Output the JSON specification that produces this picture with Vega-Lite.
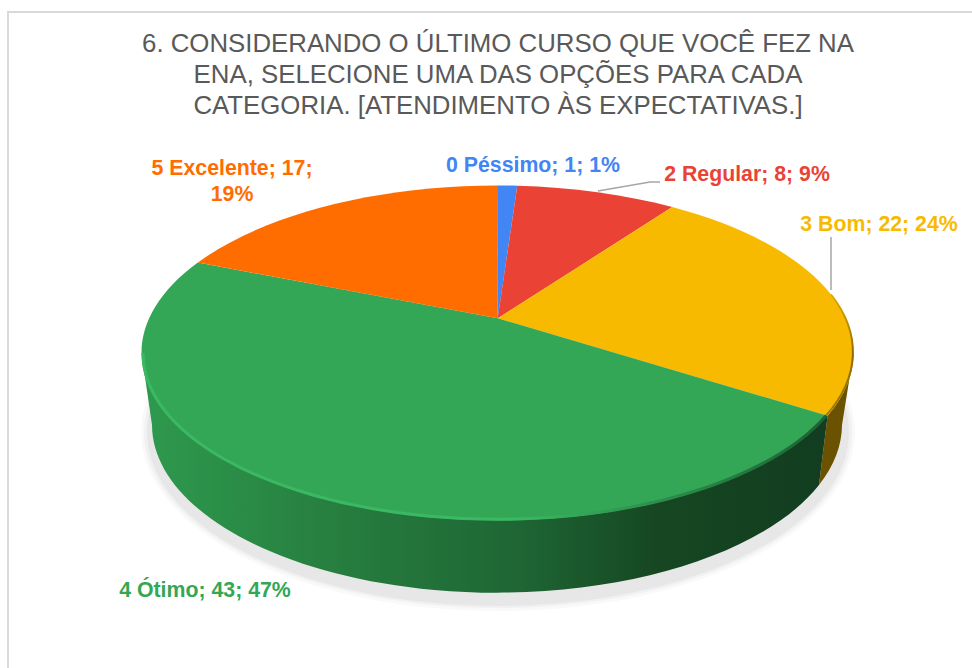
{"$schema":"https://vega.github.io/schema/vega-lite/v6.json","width":972,"height":668,"padding":0,"autosize":"none","background":"white","config":{"view":{"stroke":null}},
"title":{"text":["6. CONSIDERANDO O ÚLTIMO CURSO QUE VOCÊ FEZ NA","ENA, SELECIONE UMA DAS OPÇÕES PARA CADA","CATEGORIA. [ATENDIMENTO ÀS EXPECTATIVAS.]"],"font":"Liberation Sans","fontSize":25.8,"fontWeight":"normal","color":"#595959","anchor":"middle","frame":"group","lineHeight":31,"dx":12,"dy":145,"baseline":"bottom","offset":0},
"datasets":{"respostas":[{"categoria":"0 Péssimo","contagem":1,"rotulo":"0 Péssimo; 1; 1%"},{"categoria":"2 Regular","contagem":8,"rotulo":"2 Regular; 8; 9%"},{"categoria":"3 Bom","contagem":22,"rotulo":"3 Bom; 22; 24%"},{"categoria":"4 Ótimo","contagem":43,"rotulo":"4 Ótimo; 43; 47%"},{"categoria":"5 Excelente","contagem":17,"rotulo":"5 Excelente; 17;\n19%"}]},
"data":{"name":"respostas"},
"layer":[
{"transform":[{"filter":"datum.contagem==43"}],"mark":{"type":"point","shape":"M-478,334 L-478,-322 L486,-322","size":4,"filled":false,"fill":"transparent","stroke":"#d9d9d9","strokeWidth":2,"opacity":1}},
{"transform":[{"filter":"datum.contagem==43"}],"mark":{"type":"point","shape":"M-345,98 a357,179 0 1 0 714,0 a357,179 0 1 0 -714,0 Z","size":4,"filled":true,"fill":"black","strokeWidth":0,"opacity":0.025}},
{"transform":[{"filter":"datum.contagem==43"}],"mark":{"type":"point","shape":"M-342,98 a354,176 0 1 0 708,0 a354,176 0 1 0 -708,0 Z","size":4,"filled":true,"fill":"black","strokeWidth":0,"opacity":0.03}},
{"transform":[{"filter":"datum.contagem==43"}],"mark":{"type":"point","shape":"M-339,98 a351,174 0 1 0 702,0 a351,174 0 1 0 -702,0 Z","size":4,"filled":true,"fill":"black","strokeWidth":0,"opacity":0.04}},
{"transform":[{"filter":"datum.contagem==22"}],"mark":{"type":"point","shape":"M367.5,19 A356,167.5 0 0 1 341.6,81.75 L333,151 A345,168 0 0 0 356,91 Z","size":4,"filled":true,"fill":"#6b5200","strokeWidth":0,"opacity":1}},
{"transform":[{"filter":"datum.contagem==43"}],"mark":{"type":"point","shape":"M341.6,81.75 L333,151 A345,168 0 0 1 -334,91 L-344.5,19 Z","size":4,"filled":true,"strokeWidth":0,"opacity":1,"fill":{"gradient":"linear","x1":0,"y1":0,"x2":1,"y2":0,"stops":[{"offset":0,"color":"#2e9a4e"},{"offset":0.3,"color":"#267c3e"},{"offset":0.55,"color":"#1e6634"},{"offset":0.75,"color":"#164722"},{"offset":1,"color":"#123d20"}]}}},
{"mark":{"type":"point","size":4,"filled":true,"strokeWidth":0,"opacity":1},"encoding":{"shape":{"field":"categoria","type":"nominal","legend":null,"scale":{"domain":["0 Péssimo","2 Regular","3 Bom","4 Ótimo","5 Excelente"],"range":["M11.7,-15.7 L12,-148.5 A356,167.5 0 0 1 31.3,-148.24 Z","M11.7,-15.7 L31.3,-148.24 A356,167.5 0 0 1 186.3,-126.9 Z","M11.7,-15.7 L186.3,-126.9 A356,167.5 0 0 1 341.6,81.75 Z","M11.7,-15.7 L341.6,81.75 A356,167.5 0 1 1 -288.2,-71.4 Z","M11.7,-15.7 L-288.2,-71.4 A356,167.5 0 0 1 12,-148.5 Z"]}},"color":{"field":"categoria","type":"nominal","legend":null,"scale":{"domain":["0 Péssimo","2 Regular","3 Bom","4 Ótimo","5 Excelente"],"range":["#4285f4","#ea4335","#f8ba00","#33a755","#ff6d01"]}}}},
{"transform":[{"filter":"datum.contagem==43"}],"mark":{"type":"point","shape":"M-343,19 A354.5,166 0 0 0 340.2,81.45","size":4,"filled":false,"fill":"transparent","strokeWidth":3,"opacity":1,"stroke":{"gradient":"linear","x1":0,"y1":0,"x2":1,"y2":0,"stops":[{"offset":0,"color":"#3bb862"},{"offset":0.55,"color":"#3bb862"},{"offset":0.75,"color":"#2c8f4b"},{"offset":1,"color":"#1c6334"}]}}},
{"transform":[{"filter":"datum.contagem==22"}],"mark":{"type":"point","shape":"M345,-39.5 A355,166.5 0 0 1 340.2,81.45","size":4,"filled":false,"fill":"transparent","strokeWidth":2,"opacity":1,"stroke":{"gradient":"linear","x1":0,"y1":0,"x2":0,"y2":1,"stops":[{"offset":0,"color":"#e2a900"},{"offset":0.5,"color":"#8f6c00"},{"offset":1,"color":"#a07a00"}]}}},
{"transform":[{"filter":"datum.contagem==8"}],"mark":{"type":"point","shape":"M112,-143 L164,-152 L174,-152","size":4,"filled":false,"fill":"transparent","stroke":"#a6a6a6","strokeWidth":1.5,"opacity":1}},
{"transform":[{"filter":"datum.contagem==22"}],"mark":{"type":"point","shape":"M345,-97 L345,-44","size":4,"filled":false,"fill":"transparent","stroke":"#a6a6a6","strokeWidth":1.5,"opacity":1}},
{"mark":{"type":"text","font":"Liberation Sans","fontSize":21.3,"fontWeight":"bold","align":"center","baseline":"middle","lineBreak":"\n","lineHeight":26},"encoding":{"x":{"field":"contagem","type":"quantitative","axis":null,"scale":{"domain":[1,8,17,22,43],"range":[533,747,232,879,205],"zero":false,"nice":false}},"y":{"field":"contagem","type":"quantitative","axis":null,"scale":{"domain":[1,8,17,22,43],"range":[166,175,169,225,591],"zero":false,"nice":false}},"text":{"field":"rotulo"},"color":{"field":"categoria","type":"nominal","legend":null}}}
]}
